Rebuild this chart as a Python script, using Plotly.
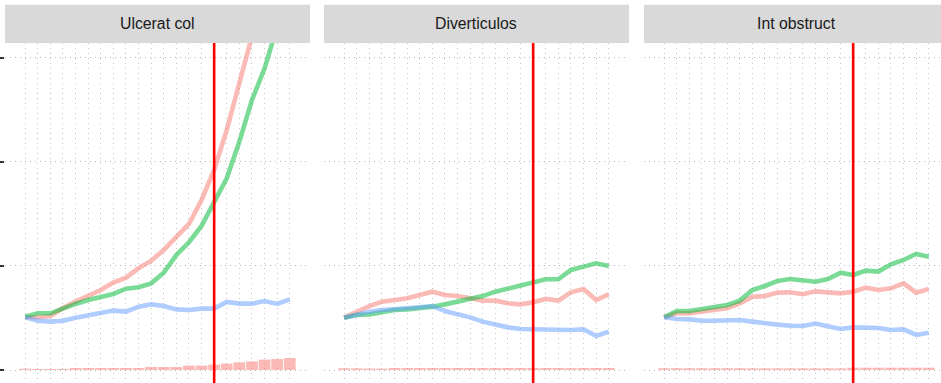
import plotly.graph_objects as go

# ---- data ----
panels = ["Ulcerat col", "Diverticulos", "Int obstruct"]
x_idx = list(range(22))
cut_x = 15

red_vals = [
    [0.507, 0.507, 0.52, 0.595, 0.657, 0.711, 0.769, 0.84, 0.888, 0.978, 1.051,
     1.154, 1.276, 1.404, 1.635, 1.923, 2.308, 2.756, 3.21, 3.85, 4.6, 5.4],
    [0.503, 0.561, 0.615, 0.657, 0.673, 0.689, 0.721, 0.753, 0.721, 0.711, 0.689,
     0.667, 0.667, 0.641, 0.631, 0.651, 0.683, 0.667, 0.747, 0.779, 0.673, 0.728],
    [0.507, 0.545, 0.545, 0.561, 0.577, 0.593, 0.641, 0.705, 0.711, 0.744, 0.747,
     0.728, 0.756, 0.744, 0.737, 0.753, 0.792, 0.769, 0.785, 0.833, 0.744, 0.779],
]
green_vals = [
    [0.513, 0.545, 0.545, 0.593, 0.635, 0.673, 0.699, 0.731, 0.782, 0.795, 0.833,
     0.936, 1.106, 1.228, 1.385, 1.619, 1.843, 2.196, 2.596, 2.9, 3.26, 3.7],
    [0.503, 0.529, 0.535, 0.561, 0.577, 0.583, 0.593, 0.609, 0.631, 0.657, 0.679,
     0.711, 0.753, 0.785, 0.808, 0.843, 0.872, 0.872, 0.962, 0.994, 1.026, 1.0],
    [0.507, 0.567, 0.567, 0.590, 0.609, 0.625, 0.667, 0.769, 0.808, 0.856, 0.875,
     0.859, 0.849, 0.875, 0.936, 0.913, 0.955, 0.946, 1.016, 1.058, 1.115, 1.09],
]
blue_vals = [
    [0.507, 0.474, 0.465, 0.474, 0.503, 0.526, 0.545, 0.571, 0.561, 0.609, 0.631,
     0.615, 0.583, 0.577, 0.590, 0.590, 0.654, 0.638, 0.638, 0.663, 0.635, 0.679],
    [0.503, 0.535, 0.561, 0.577, 0.583, 0.587, 0.603, 0.615, 0.567, 0.535, 0.506,
     0.465, 0.433, 0.41, 0.394, 0.391, 0.391, 0.385, 0.385, 0.391, 0.327, 0.369],
    [0.507, 0.490, 0.487, 0.474, 0.474, 0.478, 0.481, 0.465, 0.446, 0.436, 0.426,
     0.423, 0.446, 0.423, 0.394, 0.41, 0.41, 0.404, 0.385, 0.391, 0.337, 0.359],
]
bar_vals = [
    [0.012, 0.01, 0.01, 0.01, 0.019, 0.019, 0.019, 0.019, 0.019, 0.019, 0.029,
     0.029, 0.029, 0.042, 0.042, 0.051, 0.061, 0.074, 0.083, 0.1, 0.106, 0.115],
    [0.017, 0.016, 0.014, 0.013, 0.019, 0.019, 0.019, 0.019, 0.019, 0.019, 0.019,
     0.019, 0.019, 0.019, 0.019, 0.019, 0.019, 0.019, 0.018, 0.019, 0.019, 0.019],
    [0.017, 0.017, 0.017, 0.017, 0.017, 0.017, 0.017, 0.016, 0.016, 0.016, 0.016,
     0.016, 0.016, 0.016, 0.016, 0.022, 0.022, 0.022, 0.022, 0.022, 0.022, 0.022],
]

# ---- styling ----
W, H = 941, 383
ML, MT = 5, 43
plot_w = W - ML
plot_h = H - MT
px_per_unit = 12.6
panel_px = [(5, 310), (324, 629), (644, 949)]
x_left = -1.6
y_range = [-0.125, 3.144]

col_red = "rgba(248,118,109,0.5)"
col_green = "rgba(0,186,56,0.52)"
col_blue = "rgba(97,156,255,0.5)"
grid_col = "#C4C4C4"
dash = "1px,4px"

fig = go.Figure()
layout = dict(
    width=W, height=H,
    margin=dict(l=ML, r=0, t=MT, b=0, pad=0),
    paper_bgcolor="white", plot_bgcolor="white",
    showlegend=False,
    font=dict(family="Liberation Sans, Arial, sans-serif", color="#1A1A1A"),
    shapes=[], annotations=[],
    bargap=0.07,
)

for k, name in enumerate(panels):
    sfx = "" if k == 0 else str(k + 1)
    xa, ya = "x" + sfx, "y" + sfx
    p0, p1 = panel_px[k]
    p1v = min(p1, W)
    d0 = (p0 - ML) / plot_w
    d1 = (p1v - ML) / plot_w
    x_right = x_left + (p1v - p0) / px_per_unit

    fig.add_trace(go.Bar(x=x_idx, y=bar_vals[k], marker=dict(color=col_red, line=dict(width=0)),
                         width=0.93, xaxis=xa, yaxis=ya))
    for vals, c in ((red_vals[k], col_red), (green_vals[k], col_green), (blue_vals[k], col_blue)):
        fig.add_trace(go.Scatter(x=x_idx, y=vals, mode="lines",
                                 line=dict(color=c, width=4.6),
                                 xaxis=xa, yaxis=ya, cliponaxis=True))

    layout["xaxis" + sfx] = dict(
        domain=[d0, d1], range=[x_left, x_right], anchor=ya,
        tickvals=x_idx, showticklabels=False, ticks="",
        showgrid=True, gridcolor=grid_col, gridwidth=1, griddash=dash,
        zeroline=False, showline=False,
    )
    layout["yaxis" + sfx] = dict(
        domain=[0, 1], range=y_range, anchor=xa,
        tickvals=[0, 1, 2, 3], showticklabels=False,
        ticks="outside" if k == 0 else "", ticklen=5, tickwidth=1.5, tickcolor="#333333",
        showgrid=True, gridcolor="#B8B8B8", gridwidth=1, griddash=dash,
        zeroline=False, showline=False,
    )
    # cutoff line
    layout["shapes"].append(dict(type="line", xref=xa, yref=ya + " domain",
                                 x0=cut_x, x1=cut_x, y0=0, y1=1,
                                 line=dict(color="#FF0000", width=2.6), layer="above"))
    # strip
    layout["shapes"].append(dict(type="rect", xref=xa + " domain", yref="paper",
                                 x0=0, x1=1, y0=1, y1=1 + 38.3 / plot_h,
                                 fillcolor="#D9D9D9", line=dict(width=0), layer="above"))
    layout["annotations"].append(dict(text=name, xref=xa, yref="paper",
                                      x=10.5, y=1 + 19.0 / plot_h, showarrow=False,
                                      xanchor="center", yanchor="middle",
                                      font=dict(size=15.8, color="#1A1A1A")))

fig.update_layout(**layout)
fig.write_html("out.html",
               config={"displayModeBar": False},
               post_script="document.body.style.margin='0';document.body.style.overflow='hidden';")
